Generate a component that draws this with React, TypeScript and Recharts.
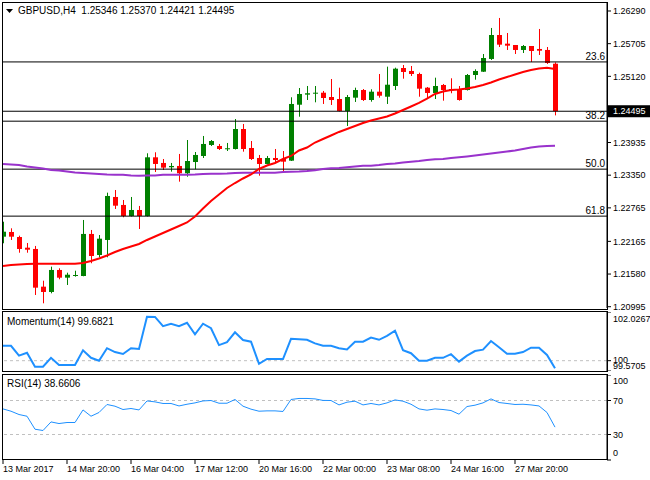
import React from "react";
import { ComposedChart, Bar, Line, XAxis, YAxis, ReferenceLine } from "recharts";

// GBPUSD H4 candles, oldest first
const opens = [
  1.22249, 1.22333, 1.22243, 1.22052, 1.22029, 1.21354, 1.21259, 1.21653, 1.21515, 1.21545,
  1.21545, 1.22298, 1.21921, 1.2219, 1.2296, 1.22817, 1.2262, 1.22727, 1.2262, 1.2367,
  1.23569, 1.23492, 1.23515, 1.23384, 1.23586, 1.23694, 1.23891, 1.23873, 1.23814, 1.23819,
  1.24177, 1.23837, 1.23658, 1.23551, 1.23658, 1.2364, 1.2361, 1.24612, 1.24792, 1.24809,
  1.24827, 1.2475, 1.24714, 1.245, 1.24738, 1.24875, 1.24696, 1.24845, 1.24755, 1.24947,
  1.25269, 1.25216, 1.25162, 1.24917, 1.24822, 1.24965, 1.24893, 1.24875, 1.24875, 1.25144,
  1.25203, 1.25431, 1.2586, 1.25705, 1.25681, 1.25592, 1.25663, 1.2561, 1.25592, 1.25346,
];
const highs = [
  1.22517, 1.22399, 1.22267, 1.22136, 1.22083, 1.21461, 1.21712, 1.21683, 1.21604, 1.2164,
  1.22548, 1.22369, 1.22279, 1.23037, 1.23085, 1.22906, 1.2296, 1.22799, 1.23742, 1.2376,
  1.2364, 1.23569, 1.2373, 1.2398, 1.23765, 1.24052, 1.2398, 1.23909, 1.23927, 1.24356,
  1.24267, 1.23962, 1.23712, 1.23694, 1.23819, 1.23783, 1.24745, 1.24911, 1.24947, 1.24947,
  1.24858, 1.25072, 1.24917, 1.24786, 1.24917, 1.24893, 1.24888, 1.25162, 1.25293, 1.25275,
  1.25323, 1.25305, 1.25185, 1.24929, 1.25096, 1.24983, 1.25085, 1.24947, 1.25162, 1.25246,
  1.2552, 1.25986, 1.26165, 1.25896, 1.25681, 1.25681, 1.25663, 1.25968, 1.25645, 1.2537,
];
const lows = [
  1.22131, 1.2219, 1.21962, 1.21962, 1.21205, 1.21056, 1.21235, 1.21486, 1.21384, 1.21533,
  1.2154, 1.21773, 1.2188, 1.2188, 1.22745, 1.22596, 1.22611, 1.22387, 1.22611, 1.23407,
  1.23443, 1.23413, 1.23234, 1.23323, 1.23457, 1.23658, 1.23873, 1.23801, 1.23783, 1.2381,
  1.23771, 1.23622, 1.23341, 1.23542, 1.23563, 1.23425, 1.23604, 1.24397, 1.24696, 1.24655,
  1.24625, 1.24607, 1.24491, 1.24231, 1.24661, 1.24679, 1.24666, 1.24738, 1.24625, 1.24875,
  1.25078, 1.25126, 1.24755, 1.24727, 1.24714, 1.24684, 1.24817, 1.24684, 1.24866, 1.2506,
  1.25198, 1.25413, 1.25645, 1.25592, 1.2552, 1.25538, 1.25377, 1.25502, 1.25341, 1.24421,
];
const closes = [
  1.22338, 1.22249, 1.22029, 1.22016, 1.21336, 1.21259, 1.21653, 1.21515, 1.21568, 1.21563,
  1.22298, 1.21903, 1.22213, 1.22978, 1.22804, 1.2262, 1.22727, 1.2262, 1.2367, 1.23551,
  1.23485, 1.23515, 1.23384, 1.23604, 1.23712, 1.23909, 1.23962, 1.23819, 1.23832, 1.24177,
  1.23819, 1.2364, 1.23551, 1.23658, 1.23622, 1.23592, 1.24625, 1.24804, 1.24817, 1.24827,
  1.24732, 1.24696, 1.245, 1.2475, 1.24875, 1.24696, 1.24845, 1.24773, 1.2497, 1.25257,
  1.25198, 1.25162, 1.24899, 1.24822, 1.24947, 1.24875, 1.2487, 1.24696, 1.25144, 1.25216,
  1.25448, 1.2586, 1.25687, 1.25669, 1.25592, 1.25663, 1.25574, 1.25579, 1.25359, 1.24495,
];

// moving averages (red = fast, purple = slow)
const maFast = [
  1.21724, 1.21742, 1.21751, 1.2176, 1.21765, 1.21765, 1.21765, 1.21765, 1.21765, 1.21765,
  1.21778, 1.21814, 1.21859, 1.21912, 1.21975, 1.22029, 1.22073, 1.22118, 1.2219, 1.22252,
  1.22315, 1.22378, 1.2244, 1.22503, 1.22611, 1.22754, 1.22888, 1.23004, 1.23121, 1.2321,
  1.23291, 1.23363, 1.23461, 1.23524, 1.23569, 1.2364, 1.23694, 1.23792, 1.23846, 1.23935,
  1.23998, 1.24061, 1.24124, 1.24177, 1.24231, 1.24285, 1.24329, 1.24365, 1.24401, 1.24455,
  1.24517, 1.2458, 1.24643, 1.24723, 1.24804, 1.24849, 1.24875, 1.24884, 1.24902, 1.24929,
  1.24965, 1.2501, 1.25063, 1.25108, 1.25153, 1.25198, 1.25234, 1.25261, 1.25275, 1.25252,
];
const maSlow = [
  1.23551, 1.23542, 1.23533, 1.23506, 1.23488, 1.2347, 1.23443, 1.23434, 1.23416, 1.23398,
  1.23389, 1.2338, 1.23371, 1.23362, 1.23359, 1.23359, 1.23345, 1.23341, 1.23345, 1.23345,
  1.23359, 1.23359, 1.23359, 1.23359, 1.23362, 1.23371, 1.23377, 1.23377, 1.2338, 1.23389,
  1.23395, 1.23395, 1.23395, 1.23395, 1.23395, 1.23407, 1.23413, 1.23416, 1.23425, 1.23438,
  1.23461, 1.23474, 1.23479, 1.23492, 1.23506, 1.2352, 1.2352, 1.23533, 1.23551, 1.2356,
  1.23577, 1.23592, 1.23604, 1.23622, 1.23635, 1.2364, 1.23658, 1.2367, 1.23685, 1.23703,
  1.23721, 1.23739, 1.23757, 1.23774, 1.23792, 1.23819, 1.23846, 1.23864, 1.23873, 1.23878,
];

const momentum = [
  100.62, 100.62, 100.21, 100.33, 99.75, 99.75, 100.12, 99.82, 99.82, 99.82,
  100.43, 100.12, 100.0, 100.52, 100.36, 100.28, 100.52, 100.49, 101.83, 101.82,
  101.44, 101.54, 101.44, 101.58, 101.1, 101.54, 101.35, 100.65, 100.77, 101.18,
  100.86, 100.79, 99.87, 100.07, 100.07, 100.07, 100.91, 100.89, 100.87, 100.72,
  100.62, 100.62, 100.52, 100.47, 100.79, 100.79, 100.96, 100.87, 101.03, 101.25,
  100.44, 100.31, 100.0, 100.0, 100.12, 100.12, 100.27, 99.96, 100.21, 100.4,
  100.46, 100.82, 100.56, 100.29, 100.29, 100.36, 100.54, 100.54, 100.24, 99.6821,
];
const rsi = [
  60.1, 57.4, 53.5, 51.5, 36.2, 34.7, 44.8, 42.9, 44.1, 44.1,
  58.9, 51.5, 55.9, 65.3, 63.3, 59.4, 60.6, 58.9, 69.5, 68.4,
  66.5, 66.5, 63.6, 65.6, 67.2, 69.5, 70.0, 66.8, 66.8, 71.2,
  63.3, 59.8, 57.4, 57.8, 57.8, 57.1, 71.2, 72.4, 72.4, 71.9,
  70.1, 70.0, 64.8, 68.0, 69.2, 64.8, 66.5, 64.8, 67.2, 70.7,
  69.2, 65.6, 60.1, 58.6, 60.1, 59.4, 58.2, 53.9, 62.9, 64.5,
  67.2, 71.9, 67.6, 66.5, 65.3, 65.6, 64.8, 63.6, 55.9, 38.6606,
];

const timeLabels = [
  "13 Mar 2017", "14 Mar 20:00", "16 Mar 04:00", "17 Mar 12:00", "20 Mar 16:00",
  "22 Mar 00:00", "23 Mar 08:00", "24 Mar 16:00", "27 Mar 20:00",
];
const timeTicks = [0, 8, 16, 24, 32, 40, 48, 56, 64];
const priceTicks = [1.2629, 1.25705, 1.2512, 1.23935, 1.2335, 1.22765, 1.22165, 1.2158, 1.20995];
const fibPrices = [1.25378, 1.24317, 1.23458, 1.22617];
const fibLabels = ["23.6", "38.2", "50.0", "61.8"];
const momTicks = [102.0267, 100, 99.5705];
const rsiTicks = [100, 70, 30, 0];

const FONT = "'Liberation Sans', Arial, sans-serif";
const AXIS_FS = 9;
const BLUE = "#1E90FF";
const last = opens.length - 1;

const data = opens.map((o, i) => ({
  i,
  open: o,
  high: highs[i],
  low: lows[i],
  close: closes[i],
  range: [lows[i], highs[i]],
  maFast: maFast[i],
  maSlow: maSlow[i],
  mom: momentum[i],
  rsi: rsi[i],
}));

const Candle = (props: any) => {
  const { x, y, width, height, payload } = props;
  if (!payload) return null;
  const { open, close, high, low } = payload;
  const cx = Math.round(x + width / 2) + 0.5;
  const span = high - low;
  const py = (v: number) => (span === 0 ? y : y + ((high - v) / span) * height);
  const color = close >= open ? "#008000" : "#FF0000";
  const top = py(Math.max(open, close));
  const bot = py(Math.min(open, close));
  return (
    <g>
      <line x1={cx} x2={cx} y1={y} y2={y + height} stroke={color} strokeWidth={1} />
      <rect x={cx - 2.5} y={top} width={5} height={Math.max(bot - top, 1)} fill={color} />
    </g>
  );
};

const PriceTag = (props: any) => {
  const { viewBox } = props;
  if (!viewBox) return null;
  const x = viewBox.x + viewBox.width + 1;
  return (
    <g>
      <rect x={x} y={viewBox.y - 6} width={650 - x} height={12} fill="#000" />
      <text x={x + 5} y={viewBox.y} dy="0.35em" fill="#fff" fontSize={AXIS_FS} fontFamily={FONT}>
        {closes[last].toFixed(5)}
      </text>
    </g>
  );
};

const sideTick = (shift: Record<string, number>) => (props: any) => {
  const { x, y, payload } = props;
  return (
    <text x={x} y={y + (shift[String(payload.value)] || 0)} dy="0.35em" fill="#000" fontSize={AXIS_FS} fontFamily={FONT}>
      {String(payload.value)}
    </text>
  );
};

const TimeTick = (props: any) => {
  const { x, payload } = props;
  const k = timeTicks.indexOf(payload.value);
  return (
    <g>
      <line x1={x} x2={x} y1={85} y2={89} stroke="#000" />
      <text x={x} y={94} dy="0.35em" textAnchor="start" fill="#000" fontSize={AXIS_FS} fontFamily={FONT}>
        {timeLabels[k]}
      </text>
    </g>
  );
};

const box = (top: number, height: number): React.CSSProperties => ({
  position: "absolute",
  left: 2,
  top,
  width: 606,
  height,
  border: "1px solid #000",
  boxSizing: "border-box",
  pointerEvents: "none",
});

const caption: React.CSSProperties = {
  position: "absolute",
  fontFamily: FONT,
  fontSize: 10,
  lineHeight: "12px",
  color: "#000",
  whiteSpace: "pre",
};

export default function App() {
  const xAxis = (
    <XAxis dataKey="i" type="number" domain={[0, 75.5]} ticks={timeTicks} allowDataOverflow hide />
  );
  return (
    <div style={{ position: "absolute", left: 0, top: 0, width: 650, height: 480, background: "#fff", overflow: "hidden" }}>
      <div style={{ position: "absolute", left: 0, top: 0 }}>
        <ComposedChart width={650} height={318} data={data} margin={{ top: 3, right: 0, bottom: 10, left: 3 }}>
          {xAxis}
          <YAxis
            orientation="right"
            width={43}
            type="number"
            domain={[1.20972, 1.26433]}
            allowDataOverflow
            ticks={priceTicks}
            interval={0}
            tickFormatter={(v: number) => v.toFixed(5)}
            tickSize={4}
            tickMargin={2}
            axisLine={{ stroke: "#000" }}
            tickLine={{ stroke: "#000" }}
            tick={{ fill: "#000", fontSize: AXIS_FS, fontFamily: FONT }}
          />
          {fibPrices.map((p, k) => (
            <ReferenceLine
              key={fibLabels[k]}
              y={p}
              stroke="#000"
              label={{ value: fibLabels[k], position: "insideBottomRight", offset: 2, fill: "#000", fontSize: 10, fontFamily: FONT }}
            />
          ))}
          <ReferenceLine y={closes[last]} stroke="#000" label={<PriceTag />} />
          <Line dataKey="maSlow" stroke="#9932CC" strokeWidth={2} dot={false} isAnimationActive={false} />
          <Line dataKey="maFast" stroke="#FF0000" strokeWidth={2} dot={false} isAnimationActive={false} />
          <Bar dataKey="range" barSize={5} shape={(p: any) => <Candle {...p} />} isAnimationActive={false} />
        </ComposedChart>
      </div>

      <div style={{ position: "absolute", left: 0, top: 312 }}>
        <ComposedChart width={650} height={59} data={data} margin={{ top: 0, right: 0, bottom: 0, left: 3 }}>
          {xAxis}
          <YAxis
            orientation="right"
            width={43}
            type="number"
            domain={[99.5705, 102.0267]}
            allowDataOverflow
            ticks={momTicks}
            interval={0}
            tickSize={4}
            tickMargin={2}
            axisLine={{ stroke: "#000" }}
            tickLine={{ stroke: "#000" }}
            tick={sideTick({ "102.0267": 7, "100": -1, "99.5705": -5 })}
          />
          <ReferenceLine y={100} stroke="#C0C0C0" strokeDasharray="3 3" />
          <Line dataKey="mom" stroke={BLUE} strokeWidth={2} dot={false} isAnimationActive={false} />
        </ComposedChart>
      </div>

      <div style={{ position: "absolute", left: 0, top: 375 }}>
        <ComposedChart width={650} height={105} data={data} margin={{ top: 0, right: 0, bottom: 0, left: 3 }}>
          <XAxis
            dataKey="i"
            type="number"
            domain={[0, 75.5]}
            ticks={timeTicks}
            interval={0}
            allowDataOverflow
            height={20}
            axisLine={false}
            tickLine={false}
            tick={<TimeTick />}
          />
          <YAxis
            orientation="right"
            width={43}
            type="number"
            domain={[0, 100]}
            ticks={rsiTicks}
            interval={0}
            tickSize={4}
            tickMargin={2}
            axisLine={{ stroke: "#000" }}
            tickLine={{ stroke: "#000" }}
            tick={sideTick({ "100": 6, "0": -7 })}
          />
          <ReferenceLine y={70} stroke="#C0C0C0" strokeDasharray="3 3" />
          <ReferenceLine y={30} stroke="#C0C0C0" strokeDasharray="3 3" />
          <Line dataKey="rsi" stroke={BLUE} strokeWidth={1} dot={false} isAnimationActive={false} />
        </ComposedChart>
      </div>

      <div style={{ position: "absolute", left: 0, top: 0, width: 2, height: 480, background: "#fff" }} />
      <div style={box(2, 308)} />
      <div style={box(311, 61)} />
      <div style={box(374, 86)} />

      <svg style={{ position: "absolute", left: 6, top: 9 }} width={7} height={5}>
        <polygon points="0,0 7,0 3.5,4" fill="#000" />
      </svg>
      <div style={{ ...caption, left: 18, top: 5 }}>
        {`GBPUSD,H4  ${opens[last].toFixed(5)} ${highs[last].toFixed(5)} ${lows[last].toFixed(5)} ${closes[last].toFixed(5)}`}
      </div>
      <div style={{ ...caption, left: 7, top: 316 }}>{`Momentum(14) ${momentum[last].toFixed(4)}`}</div>
      <div style={{ ...caption, left: 7, top: 378 }}>{`RSI(14) ${rsi[last].toFixed(4)}`}</div>
    </div>
  );
}
